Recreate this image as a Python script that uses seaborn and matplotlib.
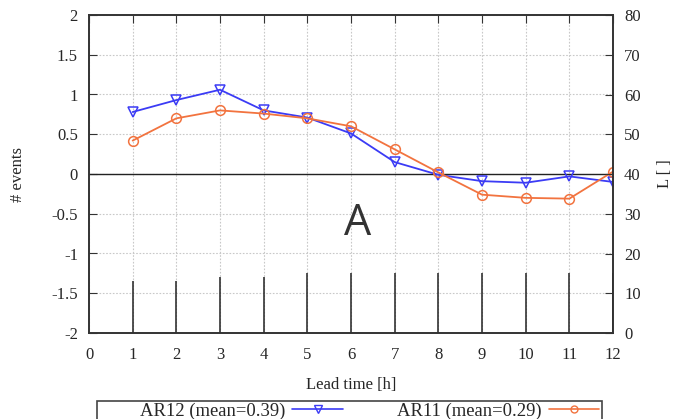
import numpy as np
import pandas as pd
import matplotlib
matplotlib.use("Agg")
import matplotlib.pyplot as plt
from matplotlib.patches import Rectangle
import seaborn as sns

# lead times and the two series (# events)
lead = [1, 2, 3, 4, 5, 6, 7, 8, 9, 10, 11, 12]
ar12 = [0.78, 0.93, 1.06, 0.80, 0.71, 0.51, 0.15, -0.01, -0.09, -0.11, -0.03, -0.10]
ar11 = [0.42, 0.70, 0.80, 0.76, 0.70, 0.60, 0.31, 0.02, -0.26, -0.30, -0.31, 0.03]
# impulses on the right axis, L [ ]
L_vals = [13, 13, 14, 14, 15, 15, 15, 15, 15, 15, 15, 15]

lab12 = "AR12 (mean=0.39)"
lab11 = "AR11 (mean=0.29)"

sns.set_style("white")
plt.rcParams['font.family'] = ['Liberation Serif', 'DejaVu Serif']
plt.rcParams['font.size'] = 12

df = pd.DataFrame({"lead": lead * 2,
                   "val": ar12 + ar11,
                   "series": [lab12] * len(lead) + [lab11] * len(lead)})

fig = plt.figure(figsize=(6.73, 4.19), dpi=100)
ax = fig.add_axes([89 / 673, 1 - 333 / 419, 524 / 673, 318 / 419])
ax2 = ax.twinx()

blue = "#3b3bf5"
orange = "#f2733f"

ax.axhline(0, color="#222222", lw=1.0, zorder=1)
sns.lineplot(data=df, x="lead", y="val", hue="series", style="series",
             palette={lab12: blue, lab11: orange},
             markers={lab12: "v", lab11: "o"}, dashes=False,
             markerfacecolor="none", markeredgewidth=1.1, markersize=7,
             lw=1.3, ax=ax, legend=False)
for line in ax.get_lines()[1:]:
    line.set_markeredgecolor(line.get_color())
    line.set_markerfacecolor("none")

ax.set_xlim(0, 12)
ax.set_ylim(-2, 2)
ax.set_xticks(range(0, 13))
ax.set_yticks(np.arange(-2, 2.01, 0.5))
ax.set_yticklabels(["-2", "-1.5", "-1", "-0.5", "0", "0.5", "1", "1.5", "2"])
ax.set_xlabel("Lead time [h]", labelpad=10)
ax.set_ylabel("# events", labelpad=18)
ax.grid(True, color="#c8c8c8", ls=(0, (1.5, 1.5)), lw=0.8, zorder=0)

# impulses on the twin axis (drawn above the grid)
ax2.vlines(lead, 0, L_vals, color="#222222", lw=1.1)
ax2.set_ylim(0, 80)
ax2.set_yticks(np.arange(0, 81, 10))
ax2.set_ylabel("L [ ]", rotation=90, labelpad=12)

ax.tick_params(axis="both", direction="in", length=6, top=True, right=False,
               color="#333333", pad=8)
ax.tick_params(axis="x", pad=10)
ax2.tick_params(axis="y", direction="in", length=6, color="#333333", pad=8)
for a in (ax, ax2):
    for s in a.spines.values():
        s.set_color("#333333")
        s.set_linewidth(1.2)

ax.text(6.16, -0.62, "A", family=["Open Sans", "DejaVu Sans"], fontsize=31,
        color="#333333", ha="center", va="center")

# legend below the plot, gnuplot style (text then sample)
h12 = plt.Line2D([], [], color=blue, marker="v", mfc="none", mec=blue, lw=1.2, ms=6)
h11 = plt.Line2D([], [], color=orange, marker="o", mfc="none", mec=orange, lw=1.2, ms=5)
fig.legend([h12, h11], [lab12, lab11], ncol=2, markerfirst=False,
           loc="center right", bbox_to_anchor=(599 / 673, 1 - 411 / 419),
           frameon=False, handlelength=2.7, handletextpad=0.4,
           borderpad=0, borderaxespad=0, fontsize=13.4, columnspacing=2.9)
fig.add_artist(Rectangle((97 / 673, -0.05), 505 / 673, 0.05 + 18 / 419,
                         transform=fig.transFigure, fill=False,
                         ec="#444444", lw=1.2))

fig.savefig("out.png", dpi=100)
